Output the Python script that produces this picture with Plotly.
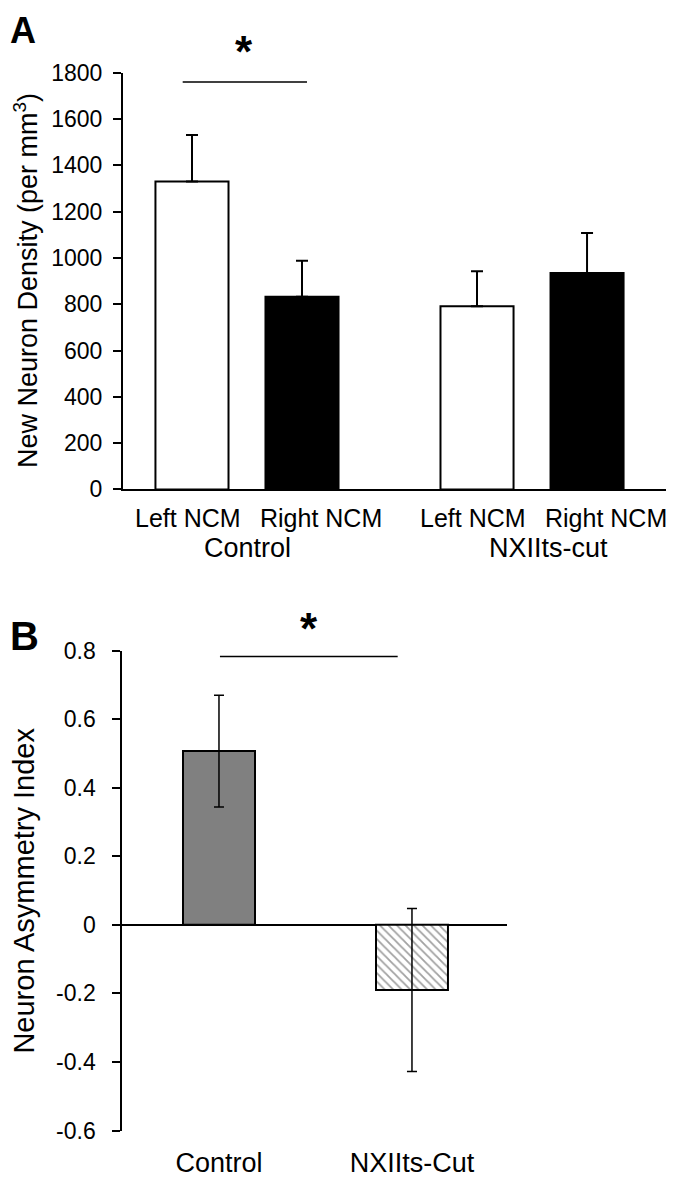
import plotly.graph_objects as go

# ---------------- data ----------------
groups_a = ["Control", "NXIIts-cut"]
sides_a = ["Left NCM", "Right NCM"]
left_density = [1330, 791]
left_err = [201, 151]
right_density = [832, 935]
right_err = [156, 173]

groups_b = ["Control", "NXIIts-Cut"]
asym_index = [0.507, -0.190]
asym_err = [0.163, 0.238]

y_ticks_a = [0, 200, 400, 600, 800, 1000, 1200, 1400, 1600, 1800]
y_ticks_b = [-0.6, -0.4, -0.2, 0, 0.2, 0.4, 0.6, 0.8]
y_ticktext_b = ["-0.6", "-0.4", "-0.2", "0", "0.2", "0.4", "0.6", "0.8"]

title_a = "New Neuron Density (per mm<sup>3</sup>)"
title_b = "Neuron Asymmetry Index"

# ---------------- style ----------------
FONT = "Liberation Sans, Arial, sans-serif"
PAGE_OFF = 8                      # default body margin of the html page
W, H = 677 - PAGE_OFF, 1178 - PAGE_OFF


def py(p):  # window pixel row -> paper y
    return 1 - (p - PAGE_OFF) / H


def px(p):  # window pixel column -> paper x
    return (p - PAGE_OFF) / W


fig = go.Figure()

fig.add_trace(go.Bar(
    x=groups_a, y=left_density, name=sides_a[0], xaxis="x", yaxis="y",
    marker=dict(color="white", line=dict(color="black", width=2)),
    error_y=dict(type="data", symmetric=False, array=left_err,
                 arrayminus=[0] * len(left_err), color="black",
                 thickness=2, width=6),
))
fig.add_trace(go.Bar(
    x=groups_a, y=right_density, name=sides_a[1], xaxis="x", yaxis="y",
    marker=dict(color="black", line=dict(color="black", width=2)),
    error_y=dict(type="data", symmetric=False, array=right_err,
                 arrayminus=[0] * len(right_err), color="black",
                 thickness=2, width=6),
))

fig.add_trace(go.Bar(
    x=groups_b, y=asym_index, xaxis="x2", yaxis="y2", width=0.373,
    marker=dict(color=["#808080", "white"],
                line=dict(color="black", width=2),
                pattern=dict(shape=["", "\\"], fgcolor="#7a7a7a",
                             fillmode="overlay", size=6, solidity=0.3)),
    error_y=dict(type="data", array=asym_err, color="black",
                 thickness=1.5, width=5),
))

axis_common = dict(showgrid=False, linecolor="black", linewidth=2,
                   automargin=False,
                   tickfont=dict(family=FONT, size=23, color="black"))

A_TOP, A_BOT = 72.7, 489.4
B_TOP, B_BOT = 650.7, 1130.5

fig.update_layout(
    template="none",
    width=W, height=H, margin=dict(l=0, r=0, t=0, b=0, pad=0),
    paper_bgcolor="white", plot_bgcolor="white", showlegend=False,
    barmode="group", bargap=0.228, bargroupgap=0.336,
    font=dict(family=FONT, color="black"),
    xaxis=dict(domain=[px(123), px(666)], anchor="y", type="category",
               range=[-0.435, 1.470], showline=True, ticks="",
               showticklabels=False, zeroline=False, **axis_common),
    yaxis=dict(domain=[py(A_BOT), py(A_TOP)], anchor="x", range=[0, 1800],
               tickvals=y_ticks_a, showline=True, ticks="outside", ticklen=8,
               tickwidth=2, tickcolor="black", zeroline=False, ticklabelstandoff=6,
               **axis_common),
    xaxis2=dict(domain=[px(122.3), px(507.3)], anchor="y2", type="category",
                range=[-0.501, 1.494], showline=False, ticks="", zeroline=False,
                ticklabelstandoff=13,
                **{**axis_common, "tickfont": dict(family=FONT, size=27, color="black")}),
    yaxis2=dict(domain=[py(B_BOT), py(B_TOP)], anchor="x2", range=[-0.6, 0.8],
                tickvals=y_ticks_b, ticktext=y_ticktext_b, showline=True,
                ticks="outside", ticklen=8, tickwidth=2, tickcolor="black",
                zeroline=True, zerolinecolor="black", zerolinewidth=2,
                ticklabelstandoff=12,
                **axis_common),
)

annotations = []
# y-axis titles (rotated text)
annotations.append(dict(text=title_a, textangle=-90, x=px(26), y=py((A_TOP + A_BOT) / 2),
                        xref="paper", yref="paper", xanchor="center", yanchor="middle",
                        showarrow=False, font=dict(family=FONT, size=27, color="black")))
annotations.append(dict(text=title_b, textangle=-90, x=px(24), y=py((B_TOP + B_BOT) / 2),
                        xref="paper", yref="paper", xanchor="center", yanchor="middle",
                        showarrow=False, font=dict(family=FONT, size=29, color="black")))

# sub category labels and group labels for panel A
sub_shift = [-59, 74]
group_shift = [1, 16]
for gi, g in enumerate(groups_a):
    for si, s in enumerate(sides_a):
        annotations.append(dict(text=s, x=g, xref="x", xshift=sub_shift[si],
                                y=py(517.5), yref="paper", yanchor="middle",
                                showarrow=False,
                                font=dict(family=FONT, size=25, color="black")))
    annotations.append(dict(text=g, x=g, xref="x", xshift=group_shift[gi],
                            y=py(547.8), yref="paper", yanchor="middle",
                            showarrow=False,
                            font=dict(family=FONT, size=27, color="black")))

# panel letters
annotations.append(dict(text="<b>A</b>", x=px(8), y=py(8), xref="paper", yref="paper",
                        xanchor="left", yanchor="top", showarrow=False,
                        font=dict(family=FONT, size=36, color="black")))
annotations.append(dict(text="<b>B</b>", x=px(8), y=py(612), xref="paper", yref="paper",
                        xanchor="left", yanchor="top", showarrow=False,
                        font=dict(family=FONT, size=40, color="black")))
# significance stars
annotations.append(dict(text="<b>*</b>", x=px(244), y=py(52), xref="paper", yref="paper",
                        xanchor="center", yanchor="middle", showarrow=False,
                        font=dict(family=FONT, size=44, color="black")))
annotations.append(dict(text="<b>*</b>", x=px(309), y=py(628), xref="paper", yref="paper",
                        xanchor="center", yanchor="middle", showarrow=False,
                        font=dict(family=FONT, size=44, color="black")))

fig.update_layout(annotations=annotations)

# significance bars
fig.add_shape(type="line", xref="x", yref="y", x0=-0.2256, x1=0.2105,
              y0=1760, y1=1760, line=dict(color="black", width=1.5))
fig.add_shape(type="line", xref="x2", yref="y2", x0=0.005, x1=0.926,
              y0=0.783, y1=0.783, line=dict(color="black", width=1.5))

fig.write_html("out.html")
